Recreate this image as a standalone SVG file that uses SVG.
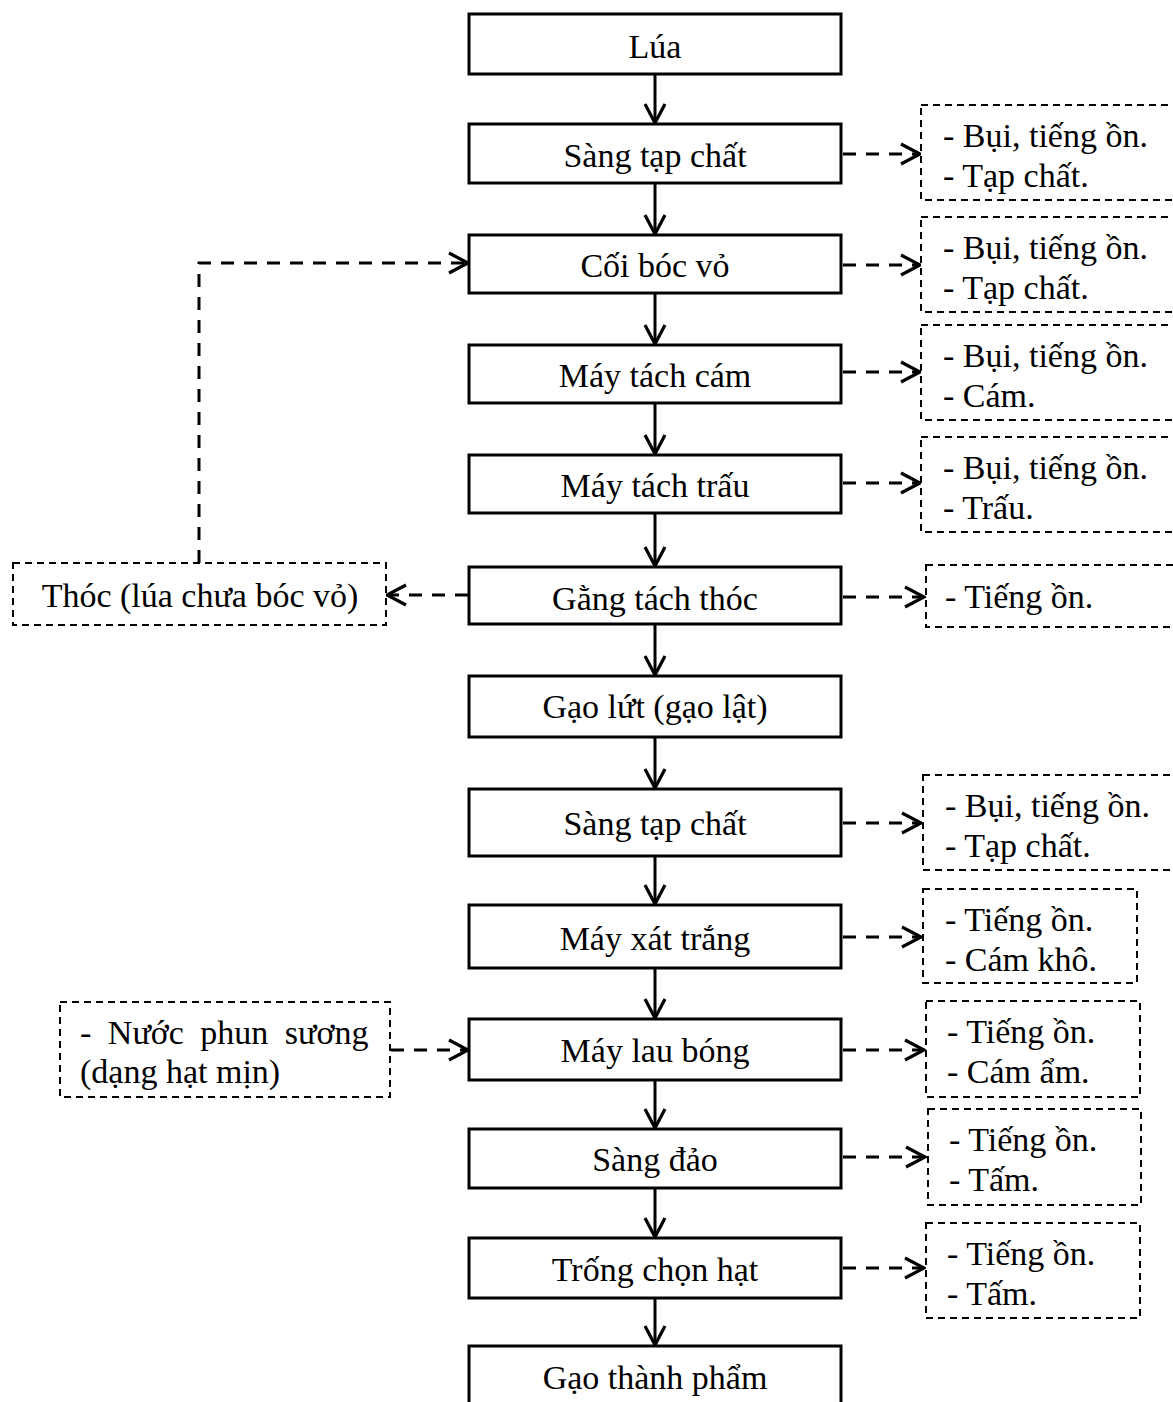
<svg xmlns="http://www.w3.org/2000/svg" width="1173" height="1402" viewBox="0 0 1173 1402">
<style>
text{font-family:"Liberation Serif","Times New Roman",serif;font-size:34px;fill:#000}
.m{text-anchor:middle}
.box{fill:#fff;stroke:#000;stroke-width:3}
.dbox{fill:#fff;stroke:#000;stroke-width:2;stroke-dasharray:7 5}
.solid{fill:none;stroke:#000;stroke-width:3}
.dash{fill:none;stroke:#000;stroke-width:3;stroke-dasharray:13 10}
</style>
<defs>
<marker id="ah" viewBox="-22 -12 26 24" refX="0" refY="0" markerWidth="26" markerHeight="24" markerUnits="userSpaceOnUse" orient="auto">
<path d="M-19,-10 L0,0 L-19,10" fill="none" stroke="#000" stroke-width="3.2" stroke-dasharray="none"/>
</marker>
</defs>
<rect width="1173" height="1402" fill="#fff"/>
<g id="connectors">
<path class="solid" d="M655,74 V123" marker-end="url(#ah)"/>
<path class="solid" d="M655,183 V234" marker-end="url(#ah)"/>
<path class="solid" d="M655,293 V344" marker-end="url(#ah)"/>
<path class="solid" d="M655,403 V454" marker-end="url(#ah)"/>
<path class="solid" d="M655,513 V566" marker-end="url(#ah)"/>
<path class="solid" d="M655,624 V675" marker-end="url(#ah)"/>
<path class="solid" d="M655,737 V788" marker-end="url(#ah)"/>
<path class="solid" d="M655,856 V904" marker-end="url(#ah)"/>
<path class="solid" d="M655,968 V1018" marker-end="url(#ah)"/>
<path class="solid" d="M655,1080 V1128" marker-end="url(#ah)"/>
<path class="solid" d="M655,1188 V1237" marker-end="url(#ah)"/>
<path class="solid" d="M655,1298 V1345" marker-end="url(#ah)"/>
<path class="dash" d="M843,154 H920" marker-end="url(#ah)"/>
<path class="dash" d="M843,265 H920" marker-end="url(#ah)"/>
<path class="dash" d="M843,372 H920" marker-end="url(#ah)"/>
<path class="dash" d="M843,483 H920" marker-end="url(#ah)"/>
<path class="dash" d="M843,597 H924" marker-end="url(#ah)"/>
<path class="dash" d="M843,823 H921" marker-end="url(#ah)"/>
<path class="dash" d="M843,937 H921" marker-end="url(#ah)"/>
<path class="dash" d="M843,1050 H924" marker-end="url(#ah)"/>
<path class="dash" d="M843,1157 H925" marker-end="url(#ah)"/>
<path class="dash" d="M843,1268 H924" marker-end="url(#ah)"/>
<path class="dash" d="M468,595 H387" marker-end="url(#ah)"/>
<path class="dash" d="M199,563 V263 H468" marker-end="url(#ah)"/>
<path class="dash" d="M391,1050 H468" marker-end="url(#ah)"/>
</g>
<g id="n1"><rect class="box" x="469" y="14" width="372" height="60"/><text class="m" x="655" y="58">Lúa</text></g>
<g id="n2"><rect class="box" x="469" y="124" width="372" height="59"/><text class="m" x="655" y="167">Sàng tạp chất</text></g>
<g id="n3"><rect class="box" x="469" y="235" width="372" height="58"/><text class="m" x="655" y="277">Cối bóc vỏ</text></g>
<g id="n4"><rect class="box" x="469" y="345" width="372" height="58"/><text class="m" x="655" y="387">Máy tách cám</text></g>
<g id="n5"><rect class="box" x="469" y="455" width="372" height="58"/><text class="m" x="655" y="497">Máy tách trấu</text></g>
<g id="n6"><rect class="box" x="469" y="567" width="372" height="57"/><text class="m" x="655" y="610">Gằng tách thóc</text></g>
<g id="n7"><rect class="box" x="469" y="676" width="372" height="61"/><text class="m" x="655" y="718">Gạo lứt (gạo lật)</text></g>
<g id="n8"><rect class="box" x="469" y="789" width="372" height="67"/><text class="m" x="655" y="835">Sàng tạp chất</text></g>
<g id="n9"><rect class="box" x="469" y="905" width="372" height="63"/><text class="m" x="655" y="950">Máy xát trắng</text></g>
<g id="n10"><rect class="box" x="469" y="1019" width="372" height="61"/><text class="m" x="655" y="1062">Máy lau bóng</text></g>
<g id="n11"><rect class="box" x="469" y="1129" width="372" height="59"/><text class="m" x="655" y="1171">Sàng đảo</text></g>
<g id="n12"><rect class="box" x="469" y="1238" width="372" height="60"/><text class="m" x="655" y="1281">Trống chọn hạt</text></g>
<g id="n13"><rect class="box" x="469" y="1346" width="372" height="80"/><text class="m" x="655" y="1389">Gạo thành phẩm</text></g>
<g id="r1"><rect class="dbox" x="921" y="105" width="270" height="95"/><text x="943" y="147">- Bụi, tiếng ồn.</text><text x="943" y="187">- Tạp chất.</text></g>
<g id="r2"><rect class="dbox" x="921" y="217" width="270" height="95"/><text x="943" y="259">- Bụi, tiếng ồn.</text><text x="943" y="299">- Tạp chất.</text></g>
<g id="r3"><rect class="dbox" x="921" y="325" width="270" height="95"/><text x="943" y="367">- Bụi, tiếng ồn.</text><text x="943" y="407">- Cám.</text></g>
<g id="r4"><rect class="dbox" x="921" y="437" width="270" height="95"/><text x="943" y="479">- Bụi, tiếng ồn.</text><text x="943" y="519">- Trấu.</text></g>
<g id="r5"><rect class="dbox" x="926" y="565" width="265" height="62"/><text x="945" y="608">- Tiếng ồn.</text></g>
<g id="r6"><rect class="dbox" x="923" y="775" width="268" height="95"/><text x="945" y="817">- Bụi, tiếng ồn.</text><text x="945" y="857">- Tạp chất.</text></g>
<g id="r7"><rect class="dbox" x="923" y="889" width="214" height="94"/><text x="945" y="931">- Tiếng ồn.</text><text x="945" y="971">- Cám khô.</text></g>
<g id="r8"><rect class="dbox" x="926" y="1001" width="214" height="96"/><text x="947" y="1043">- Tiếng ồn.</text><text x="947" y="1083">- Cám ẩm.</text></g>
<g id="r9"><rect class="dbox" x="928" y="1109" width="213" height="96"/><text x="949" y="1151">- Tiếng ồn.</text><text x="949" y="1191">- Tấm.</text></g>
<g id="r10"><rect class="dbox" x="926" y="1223" width="214" height="95"/><text x="947" y="1265">- Tiếng ồn.</text><text x="947" y="1305">- Tấm.</text></g>
<g id="l1"><rect class="dbox" x="13" y="563" width="373" height="62"/><text class="m" x="200" y="607">Thóc (lúa chưa bóc vỏ)</text></g>
<g id="l2"><rect class="dbox" x="60" y="1002" width="330" height="95"/><text x="80" y="1044" word-spacing="8">- Nước phun sương</text><text x="80" y="1083">(dạng hạt mịn)</text></g>
</svg>
